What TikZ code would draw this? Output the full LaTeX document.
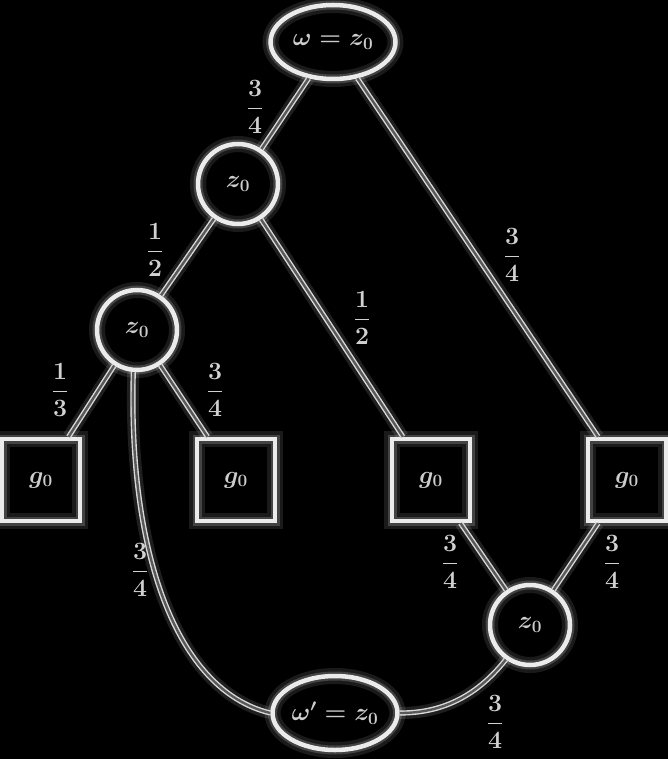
\documentclass[tikz,border=0pt]{standalone}
\usetikzlibrary{shapes.geometric}
\begin{document}
\begin{tikzpicture}[x=1pt,y=-1pt,
 glow/.style={preaction={draw=white,opacity=0.10,line width=16pt},preaction={draw=white,opacity=0.18,line width=9pt}},
 cnode/.style={circle,draw=white!92!black,line width=4.5pt,minimum size=80pt,inner sep=0pt,glow,
   text=white!80!black,font=\fontsize{27}{30}\selectfont\boldmath},
 snode/.style={rectangle,draw=white!92!black,line width=4.5pt,minimum width=78pt,minimum height=82pt,inner sep=0pt,glow,
   text=white!80!black,font=\fontsize{27}{30}\selectfont\boldmath},
 enode/.style={ellipse,draw=white!92!black,line width=4.5pt,minimum width=125pt,minimum height=74pt,inner sep=0pt,glow,
   text=white!80!black,font=\fontsize{27}{30}\selectfont\boldmath},
 conn/.style={draw=white!85!black,line width=1.4pt,double=black!65!white,double distance=2.4pt,
   preaction={draw=white,opacity=0.12,line width=12pt}},
 lab/.style={text=white!82!black,font=\fontsize{27}{30}\selectfont\boldmath,inner sep=1pt}
]
\fill[black] (0,0) rectangle (668,759);
\useasboundingbox (0,0) rectangle (668,759);

\node[enode] (root) at (333,42) {$\omega = z_0$};
\node[cnode] (z1) at (238,184) {$z_0$};
\node[cnode] (z2) at (137,330) {$z_0$};
\node[snode] (s1) at (41,480) {$g_0$};
\node[snode] (s2) at (236,480) {$g_0$};
\node[snode] (s3) at (431,480) {$g_0$};
\node[snode] (s4) at (627,480) {$g_0$};
\node[cnode] (z3) at (530,625) {$z_0$};
\node[enode] (bot) at (335,713) {$\omega' = z_0$};

\draw[conn] (root) -- (z1);
\draw[conn] (root) -- (s4);
\draw[conn] (z1) -- (z2);
\draw[conn] (z1) -- (s3);
\draw[conn] (z2) -- (s1);
\draw[conn] (z2) -- (s2);
\draw[conn] (s3) -- (z3);
\draw[conn] (s4) -- (z3);
\draw[conn] (z2.265) .. controls (128,550) and (175,690) .. (bot.west);
\draw[conn] (z3.235) .. controls (470,705) and (430,713) .. (bot.east);

\node[lab] (l1) at (255,107) {$\displaystyle\frac{3}{4}$};
\node[lab] (l2) at (155,250) {$\displaystyle\frac{1}{2}$};
\node[lab] (l3) at (362,318) {$\displaystyle\frac{1}{2}$};
\node[lab] (l4) at (512,255) {$\displaystyle\frac{3}{4}$};
\node[lab] (l5) at (60,390) {$\displaystyle\frac{1}{3}$};
\node[lab] (l6) at (215,390) {$\displaystyle\frac{3}{4}$};
\node[lab] (l7) at (140,570) {$\displaystyle\frac{3}{4}$};
\node[lab] (l8) at (450,562) {$\displaystyle\frac{3}{4}$};
\node[lab] (l9) at (612,562) {$\displaystyle\frac{3}{4}$};
\node[lab] (l10) at (495,722) {$\displaystyle\frac{3}{4}$};
\end{tikzpicture}
\end{document}
